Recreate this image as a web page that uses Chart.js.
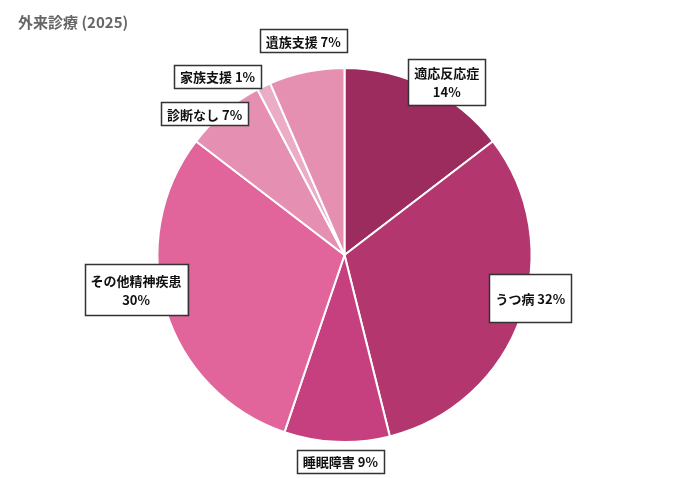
<!DOCTYPE html>
<html>
<head>
<meta charset="utf-8">
<script src="https://cdn.jsdelivr.net/npm/chart.js@4.4.1/dist/chart.umd.min.js"></script>
<style>
  html, body { margin: 0; padding: 0; background: #fff; }
  #wrap { width: 690px; height: 478px; }
</style>
</head>
<body>
<div id="wrap"><canvas id="pieChart"></canvas></div>
<script>
// data
var titleText = "外来診療 (2025)";
var categories = ["適応反応症", "うつ病", "睡眠障害", "その他精神疾患", "診断なし", "家族支援", "遺族支援"];
var sliceValues = [14.6, 31.5, 9.1, 30.2, 6.9, 1.2, 6.5];
// percentages as printed in the labels
var pctLabels = [14, 32, 9, 30, 7, 1, 7];
var sliceColors = ["#9c2c5e", "#b3366f", "#c63f7e", "#e1649a", "#e590b2", "#ebadc6", "#e690b1"];

// label layout: angle nudge (deg), distance as a fraction of radius, two lines?, min box height
var labelLayout = [
  { turn: 4.3, dist: 1.075, split: true, minH: 46 },
  { turn: -6.2, dist: 1.02, split: false, minH: 48 },
  { turn: -1.2, dist: 1.104, split: false, minH: 23 },
  { turn: 7.4, dist: 1.13, split: true, minH: 51 },
  { turn: -4.6, dist: 1.063, split: false, minH: 20 },
  { turn: -9.8, dist: 1.173, split: false, minH: 20 },
  { turn: 0.8, dist: 1.167, split: false, minH: 21 }
];

var FONT = '"Noto Sans CJK JP", "Noto Sans", sans-serif';

var titlePlugin = {
  id: "titleText",
  afterDraw: function (chart) {
    var ctx = chart.ctx;
    ctx.save();
    ctx.font = "bold 15px " + FONT;
    ctx.fillStyle = "#666666";
    ctx.textAlign = "left";
    ctx.textBaseline = "middle";
    ctx.fillText(titleText, 18, 22);
    ctx.restore();
  }
};

var boxLabels = {
  id: "boxLabels",
  afterDatasetsDraw: function (chart) {
    var ctx = chart.ctx;
    var meta = chart.getDatasetMeta(0);
    ctx.save();
    ctx.font = "bold 13px " + FONT;
    ctx.textAlign = "center";
    ctx.textBaseline = "middle";
    meta.data.forEach(function (arc, i) {
      var lay = labelLayout[i];
      var mid = (arc.startAngle + arc.endAngle) / 2 + lay.turn * Math.PI / 180;
      var r = arc.outerRadius * lay.dist;
      var cx = arc.x + Math.cos(mid) * r;
      var cy = arc.y + Math.sin(mid) * r;
      var pct = pctLabels[i] + "%";
      var lines = lay.split ? [categories[i], pct] : [categories[i] + " " + pct];
      var w = 0;
      lines.forEach(function (t) { w = Math.max(w, ctx.measureText(t).width); });
      var lineH = 19;
      var bw = w + 12;
      if (i === 1) bw = Math.max(bw, 80);
      var bh = Math.max(lines.length * lineH + 4, lay.minH);
      ctx.fillStyle = "#ffffff";
      ctx.fillRect(cx - bw / 2, cy - bh / 2, bw, bh);
      ctx.strokeStyle = "#333333";
      ctx.lineWidth = 1.5;
      ctx.strokeRect(Math.round(cx - bw / 2) + 0.5, Math.round(cy - bh / 2) + 0.5, Math.round(bw), Math.round(bh));
      ctx.fillStyle = "#111111";
      var y0 = cy - (lines.length - 1) * lineH / 2;
      lines.forEach(function (t, k) {
        ctx.fillText(t, cx, y0 + k * lineH + 1);
      });
    });
    ctx.restore();
  }
};

var ctxPie = document.getElementById("pieChart").getContext("2d");
var pieChart = new Chart(ctxPie, {
  type: "pie",
  data: {
    labels: categories,
    datasets: [
      {
        data: sliceValues,
        backgroundColor: sliceColors,
        borderColor: "#ffffff",
        borderWidth: 2
      }
    ]
  },
  options: {
    responsive: true,
    maintainAspectRatio: false,
    animation: false,
    layout: {
      padding: { top: 67, bottom: 35, left: 0, right: 1 }
    },
    plugins: {
      legend: { display: false },
      title: { display: false },
      tooltip: { enabled: false }
    }
  },
  plugins: [titlePlugin, boxLabels]
});
</script>
</body>
</html>
